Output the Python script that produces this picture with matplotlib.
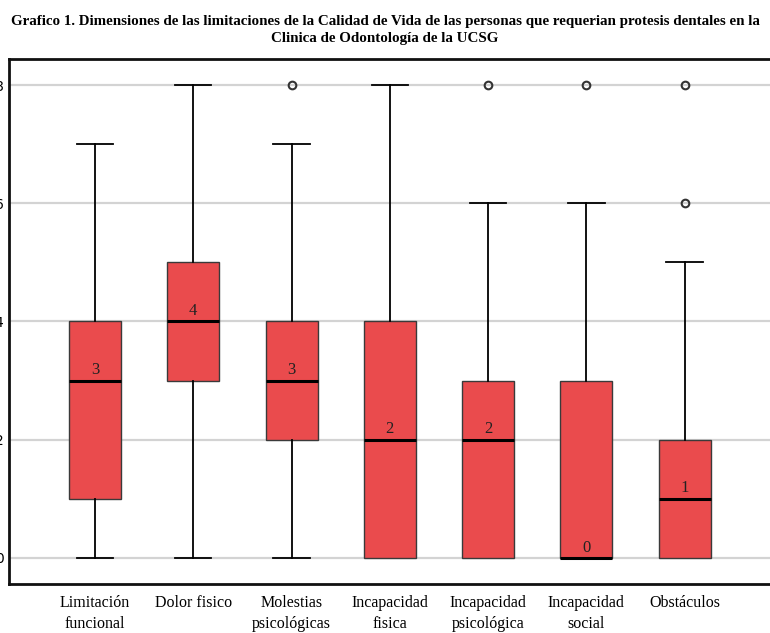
import matplotlib

matplotlib.use("Agg")
import matplotlib.pyplot as plt

# values (SPSS-style boxplot)
categories = [
    "Limitación\nfuncional",
    "Dolor fisico",
    "Molestias\npsicológicas",
    "Incapacidad\nfisica",
    "Incapacidad\npsicológica",
    "Incapacidad\nsocial",
    "Obstáculos",
]
whisker_low = [0, 0, 0, 0, 0, 0, 0]
q1 = [1, 3, 2, 0, 0, 0, 0]
medians = [3, 4, 3, 2, 2, 0, 1]
q3 = [4, 5, 4, 4, 3, 3, 2]
whisker_high = [7, 8, 7, 8, 6, 6, 5]
outliers = [[], [], [8], [], [8], [8], [6, 8]]
yticks = [0, 2, 4, 6, 8]

BOX_COLOR = "#EA4B4D"
SERIF = "Liberation Serif"

stats = []
for i, name in enumerate(categories):
    stats.append({
        "label": name,
        "whislo": whisker_low[i],
        "q1": q1[i],
        "med": medians[i],
        "q3": q3[i],
        "whishi": whisker_high[i],
        "fliers": outliers[i],
    })

fig = plt.figure(figsize=(7.7, 6.33), dpi=100)
ax = fig.add_axes([9 / 770, 1 - 584 / 633, 1.0, 525 / 633])

positions = list(range(1, len(categories) + 1))
parts = ax.bxp(
    stats,
    positions=positions,
    widths=0.53,
    patch_artist=True,
    showfliers=True,
    boxprops=dict(facecolor=BOX_COLOR, edgecolor="#3a3a3a", linewidth=1.0),
    medianprops=dict(color="black", linewidth=2.2),
    whiskerprops=dict(color="black", linewidth=1.3),
    capprops=dict(color="black", linewidth=1.3),
    capwidths=0.37,
    flierprops=dict(marker="o", markersize=5.5, markerfacecolor="none",
                    markeredgecolor="#333333", markeredgewidth=1.5),
    zorder=3,
)

# SPSS doesn't draw a whisker/cap when it coincides with the box edge
for i in range(len(categories)):
    if whisker_low[i] == q1[i]:
        parts["caps"][2 * i].set_visible(False)
        parts["whiskers"][2 * i].set_visible(False)
    if whisker_high[i] == q3[i]:
        parts["caps"][2 * i + 1].set_visible(False)
        parts["whiskers"][2 * i + 1].set_visible(False)

for x, m in zip(positions, medians):
    ax.text(x, m + 0.04, str(m), ha="center", va="bottom",
            family=SERIF, fontsize=12, color="#222222", zorder=4)

ax.set_xlim(0.125, 7.96)
ax.set_ylim(-0.44, 8.44)
ax.set_yticks(yticks)
ax.set_yticklabels([str(t) for t in yticks])
ax.tick_params(axis="y", length=0, pad=4, labelsize=10)
ax.tick_params(axis="x", length=0, pad=8)
ax.set_xticks(positions)
ax.set_xticklabels(categories, family=SERIF, fontsize=11.5, linespacing=1.4)
ax.yaxis.grid(True, color="#D3D3D3", linewidth=1.6, zorder=0)
ax.set_axisbelow(True)

for side in ["left", "bottom", "top"]:
    ax.spines[side].set_linewidth(2.0)
    ax.spines[side].set_color("#111111")
ax.spines["right"].set_visible(False)

fig.text(0.5, 1 - 15 / 633,
         "Grafico 1. Dimensiones de las limitaciones de la Calidad de Vida de las personas que requerian protesis dentales en la\nClinica de Odontología de la UCSG",
         ha="center", va="top", family=SERIF, fontweight="bold", fontsize=10.8,
         linespacing=1.4)

fig.savefig("out.png", dpi=100)
